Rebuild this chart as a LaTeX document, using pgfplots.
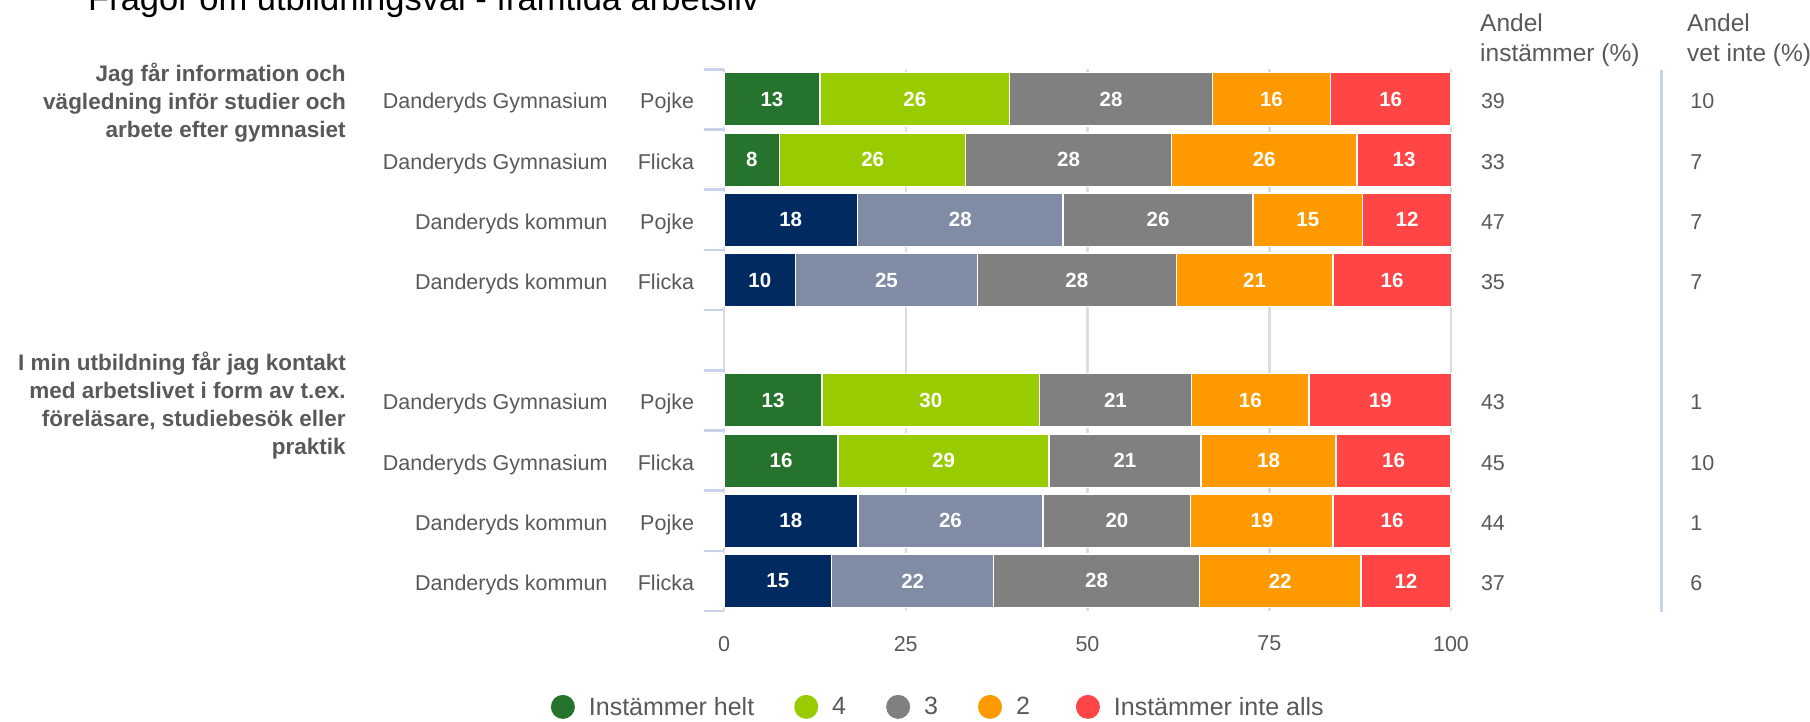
\documentclass[border=0pt]{standalone}
\usepackage{pgfplots}
\pgfplotsset{compat=1.18}
\usepackage{fontspec}
\setmainfont{Liberation Sans}
\definecolor{cgreen}{HTML}{26732E}
\definecolor{clime}{HTML}{99CC00}
\definecolor{cgray}{HTML}{808080}
\definecolor{corange}{HTML}{FF9900}
\definecolor{cred}{HTML}{FF4545}
\definecolor{cnavy}{HTML}{002A60}
\definecolor{cslate}{HTML}{808BA6}
\definecolor{ctext}{HTML}{595959}
\definecolor{cgrid}{HTML}{DDDDDD}
\definecolor{cblue}{HTML}{C8D3E8}
\newcommand{\lab}{\fontsize{21.5}{26}\selectfont}
\newcommand{\hdr}{\fontsize{24.5}{30}\selectfont}
\newcommand{\leg}{\fontsize{25}{30}\selectfont}
\newcommand{\rowlab}[5]{%
  \node[anchor=base east, inner sep=0, yshift=-9.5pt, text=ctext, font=\lab] at (axis cs:-4.1,#1) {#3};
  \node[anchor=base east, inner sep=0, yshift=-9.5pt, text=ctext, font=\lab] at (axis cs:-16.0,#1) {#2};
  \node[anchor=base west, inner sep=0, yshift=-9.5pt, text=ctext, font=\lab] at (axis cs:104.1,#1) {#4};
  \node[anchor=base west, inner sep=0, yshift=-9.5pt, text=ctext, font=\lab] at (axis cs:132.9,#1) {#5};
}
\pgfplotsset{
  mybase/.style={
    at={(724pt,110pt)}, anchor=south west,
    scale only axis, width=727pt, height=541.7pt,
    xbar stacked, bar width=53.5pt,
    xmin=0, xmax=100, ymin=0.5, ymax=9.5, y dir=reverse,
    clip=false,
    axis line style={draw=none},
    /pgf/number format/assume math mode=true,
    point meta=explicit,
    nodes near coords={\pgfmathprintnumber[fixed,precision=0]{\pgfplotspointmeta}},
    every node near coord/.append style={font=\fontsize{20.5}{24}\selectfont\bfseries, text=white},
  },
  seg/.style={fill=#1, draw=white, line width=1.5pt},
  legcirc/.style={legend image code/.code={\fill[#1, draw=none] (12pt,0pt) circle (12pt); \path[draw=none, fill=none] (0pt,0pt) -- (36pt,0pt);}},
}
\begin{document}
\begin{tikzpicture}[x=1pt,y=1pt]
\useasboundingbox (0,0) rectangle (1810,721);
\node[anchor=base west, inner sep=0, font=\fontsize{34.5}{40}\selectfont] at (88,710) {Frågor om utbildningsval - framtida arbetsliv};
\node[anchor=base west, inner sep=0, text=ctext, font=\hdr] at (1480,689.3) {Andel};
\node[anchor=base west, inner sep=0, text=ctext, font=\hdr] at (1480,659.3) {instämmer (\%)};
\node[anchor=base west, inner sep=0, text=ctext, font=\hdr] at (1687,689.3) {Andel};
\node[anchor=base west, inner sep=0, text=ctext, font=\hdr] at (1687,659.3) {vet inte (\%)};
\draw[cblue, line width=3pt] (1661,109) -- (1661,651);
% Axis A: Danderyds Gymnasium rows, grid, ticks, labels, legend
\begin{axis}[
  mybase,
  xtick={0,25,50,75,100},
  xmajorgrids, grid style={cgrid, line width=2.5pt},
  x tick style={draw=none},
  ytick={0.5,1.5,2.5,3.5,4.5,5.5,6.5,7.5,8.5,9.5}, yticklabels={},
  ytick pos=left, tick align=outside, major tick length=20pt,
  y tick style={cblue, line width=2.5pt},
  xticklabel style={font=\lab, text=ctext, yshift=-1.5pt},
  legend style={at={(axis description cs:-0.2425,-0.177)}, anchor=west, draw=none, fill=none,
    font=\leg, text=ctext,
    /tikz/every even column/.append style={column sep=38pt}},
  legend columns=5,
]
\addlegendimage{legcirc=cgreen}
\addlegendimage{legcirc=clime}
\addlegendimage{legcirc=cgray}
\addlegendimage{legcirc=corange}
\addlegendimage{legcirc=cred}
\legend{Instämmer helt,4,3,2\kern6pt,Instämmer inte alls}
\addplot[seg=cgreen] coordinates {(13.2,1) [13] (7.65,2) [8] (13.5,6) [13] (15.7,7) [16]};
\addplot[seg=clime] coordinates {(26.1,1) [26] (25.6,2) [26] (29.9,6) [30] (29.0,7) [29]};
\addplot[seg=cgray] coordinates {(27.9,1) [28] (28.3,2) [28] (20.9,6) [21] (20.9,7) [21]};
\addplot[seg=corange] coordinates {(16.2,1) [16] (25.5,2) [26] (16.2,6) [16] (18.6,7) [18]};
\addplot[seg=cred] coordinates {(16.6,1) [16] (13.0,2) [13] (19.6,6) [19] (15.8,7) [16]};
\rowlab{1}{Danderyds Gymnasium}{Pojke}{39}{10}
\rowlab{2}{Danderyds Gymnasium}{Flicka}{33}{7}
\rowlab{3}{Danderyds kommun}{Pojke}{47}{7}
\rowlab{4}{Danderyds kommun}{Flicka}{35}{7}
\rowlab{6}{Danderyds Gymnasium}{Pojke}{43}{1}
\rowlab{7}{Danderyds Gymnasium}{Flicka}{45}{10}
\rowlab{8}{Danderyds kommun}{Pojke}{44}{1}
\rowlab{9}{Danderyds kommun}{Flicka}{37}{6}
\node[anchor=east, inner sep=0, yshift=-3.5pt, align=right, text=ctext, font=\fontsize{22.5}{28}\selectfont\bfseries] at (axis cs:-52,1) {Jag får information och\\vägledning inför studier och\\arbete efter gymnasiet};
\node[anchor=east, inner sep=0, yshift=-5pt, align=right, text=ctext, font=\fontsize{22.5}{28}\selectfont\bfseries] at (axis cs:-52,6) {I min utbildning får jag kontakt\\med arbetslivet i form av t.ex.\\föreläsare, studiebesök eller\\praktik};
\end{axis}
% Axis B: Danderyds kommun rows
\begin{axis}[
  mybase,
  xtick=\empty, ytick=\empty,
]
\addplot[seg=cnavy] coordinates {(18.35,3) [18] (9.84,4) [10] (18.4,8) [18] (14.8,9) [15]};
\addplot[seg=cslate] coordinates {(28.3,3) [28] (25.0,4) [25] (25.5,8) [26] (22.3,9) [22]};
\addplot[seg=cgray] coordinates {(26.1,3) [26] (27.4,4) [28] (20.3,8) [20] (28.3,9) [28]};
\addplot[seg=corange] coordinates {(15.1,3) [15] (21.5,4) [21] (19.6,8) [19] (22.2,9) [22]};
\addplot[seg=cred] coordinates {(12.2,3) [12] (16.3,4) [16] (16.2,8) [16] (12.4,9) [12]};
\end{axis}
\end{tikzpicture}
\end{document}
